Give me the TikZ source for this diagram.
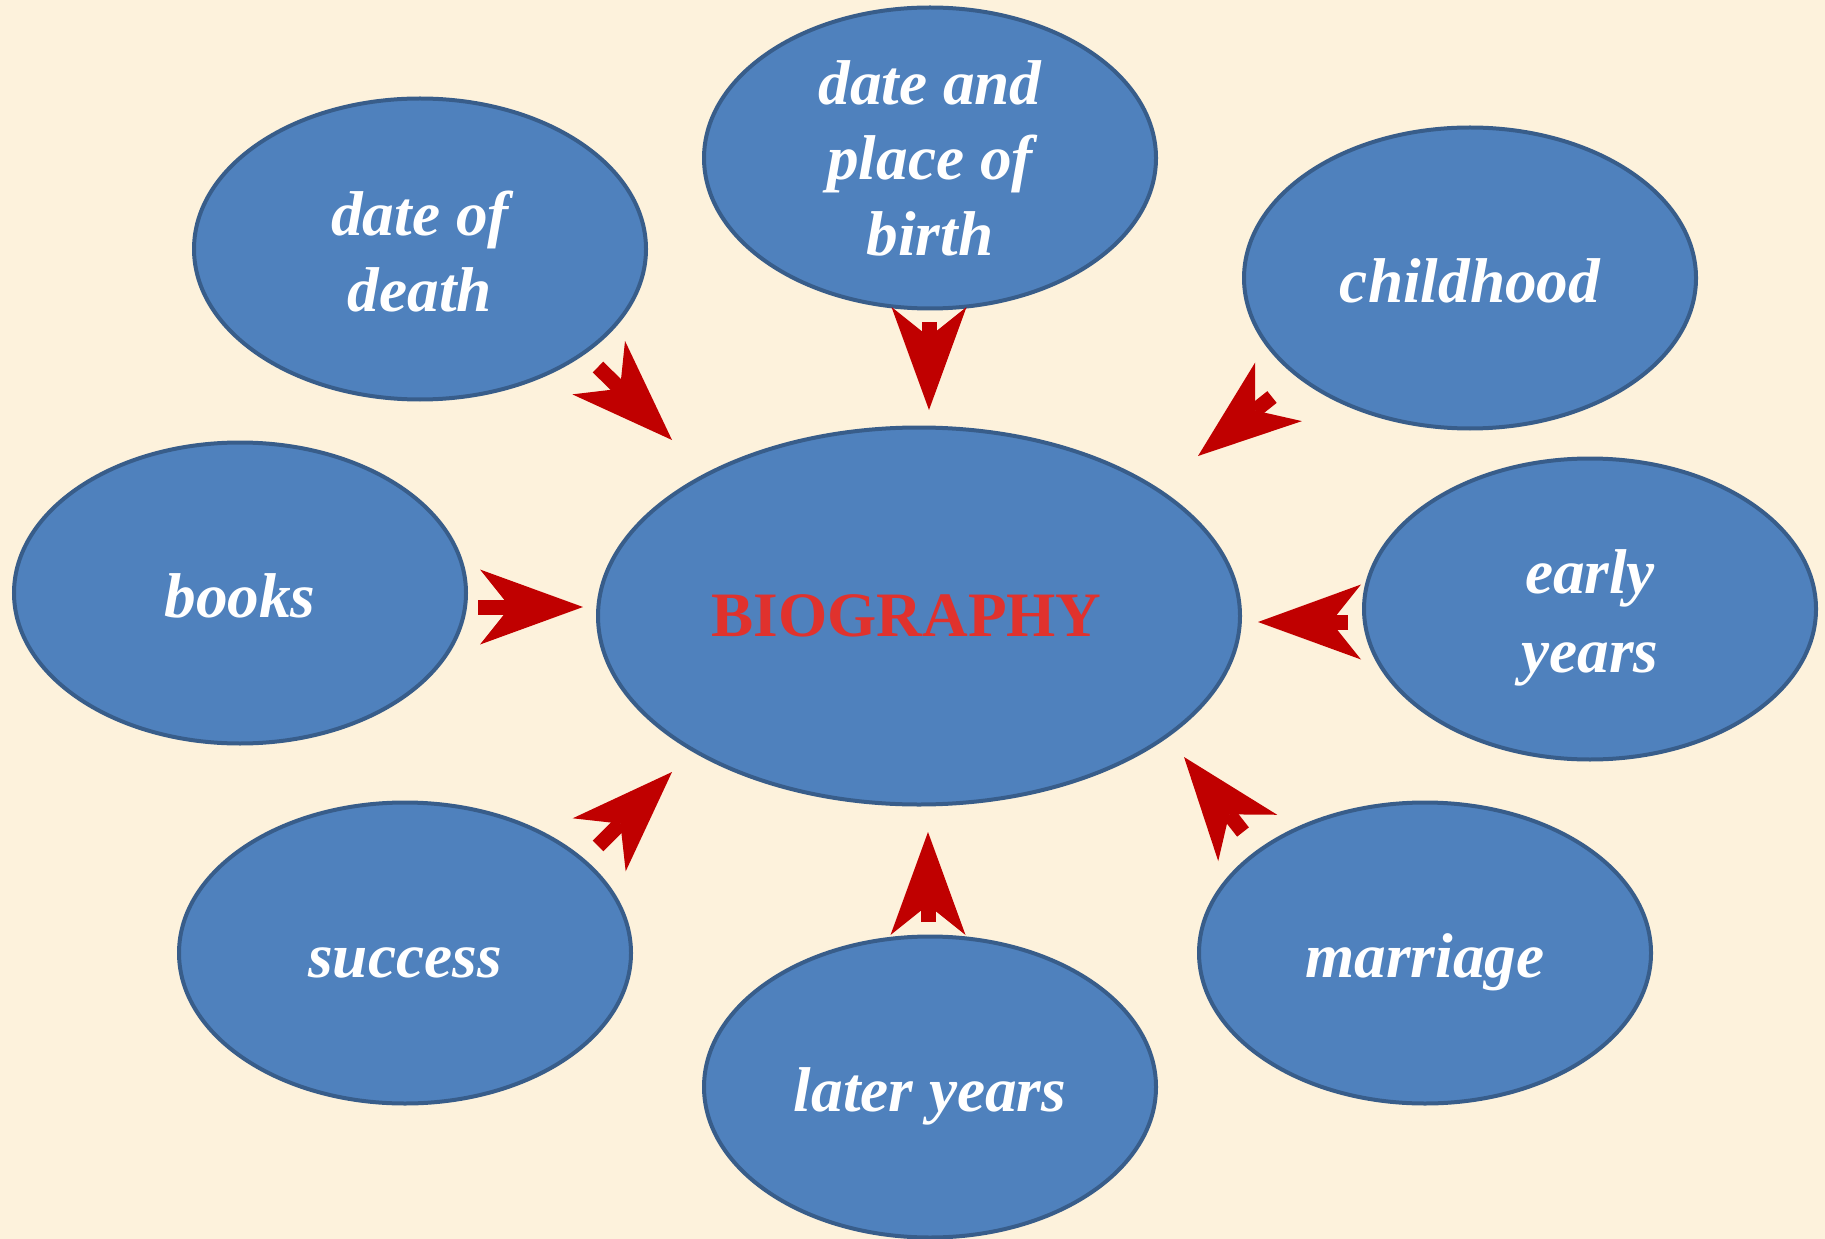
\documentclass[tikz,border=0pt]{standalone}
\usepackage{fontspec}
\setmainfont{Liberation Serif}
\usetikzlibrary{shapes.geometric,arrows.meta}
\definecolor{paper}{RGB}{253,242,220}
\definecolor{bubble}{RGB}{79,129,189}
\definecolor{rim}{RGB}{56,93,138}
\definecolor{pointer}{RGB}{192,0,0}
\definecolor{title}{RGB}{224,50,45}
\newcommand{\linebox}{\rule[-3.85pt]{0pt}{21.5pt}}
\tikzset{
    base/.style={
        draw=rim,
        fill=bubble,
        line width=0.4mm,
        ellipse,
        inner sep=0pt,
        align=center,
    },
    % Topic round the centre
    topic/.style={
        base,
        text=white,
        font=\fontsize{18}{21.5}\selectfont\bfseries\itshape,
        minimum width=4.52cm,
        minimum height=3.01cm,
    },
    % Topic on one line
    single/.style={
        topic,
        text height=17.65pt,
        text depth=3.85pt,
    },
    % Centre
    hub/.style={
        base,
        text=title,
        font=\fontsize{18}{21.5}\selectfont\bfseries,
        minimum width=6.42cm,
        minimum height=3.77cm,
    },
    % Arrow into the centre
    feed/.style={
        draw=pointer,
        line width=1.5mm,
        -{Stealth[length=10.3mm,width=7.5mm,inset=3mm,line width=0pt]},
    },
}
\begin{document}
\begin{tikzpicture}
    \useasboundingbox (0,0) rectangle (18.25,-12.39);
    \fill[paper] (0,0) rectangle (18.25,-12.39);

    \node[hub] (bio) at (9.19,-6.16) {BIOGRAPHY\kern0.25cm};

    \node[topic] (T1) at (4.20,-2.49) {\linebox date of\\death\linebox};
    \node[topic] (T2) at (9.30,-1.58) {date and\\place of\\birth};
    \node[single] (T3) at (14.70,-2.78) {childhood};
    \node[single] (T4) at (2.40,-5.93) {books};
    \node[topic] (T5) at (15.90,-6.09) {\linebox early\\years\linebox};
    \node[single] (T6) at (4.05,-9.53) {success};
    \node[single] (T7) at (9.30,-10.87) {later years};
    \node[single] (T8) at (14.25,-9.53) {marriage};

    % Arrow ends
    \coordinate (s1) at (5.98,-3.67);   \coordinate (e1) at (6.72,-4.40);
    \coordinate (s2) at (9.29,-3.22);   \coordinate (e2) at (9.29,-4.10);
    \coordinate (s3) at (12.72,-3.97);  \coordinate (e3) at (11.98,-4.56);
    \coordinate (s4) at (4.78,-6.07);   \coordinate (e4) at (5.83,-6.07);
    \coordinate (s5) at (13.48,-6.22);  \coordinate (e5) at (12.58,-6.22);
    \coordinate (s6) at (5.98,-8.46);   \coordinate (e6) at (6.72,-7.72);
    \coordinate (s7) at (9.28,-9.22);   \coordinate (e7) at (9.28,-8.32);
    \coordinate (s8) at (12.43,-8.32);  \coordinate (e8) at (11.84,-7.57);

    \foreach \i in {1,...,8}
        \draw[feed] (s\i) -- (e\i);
\end{tikzpicture}
\end{document}
